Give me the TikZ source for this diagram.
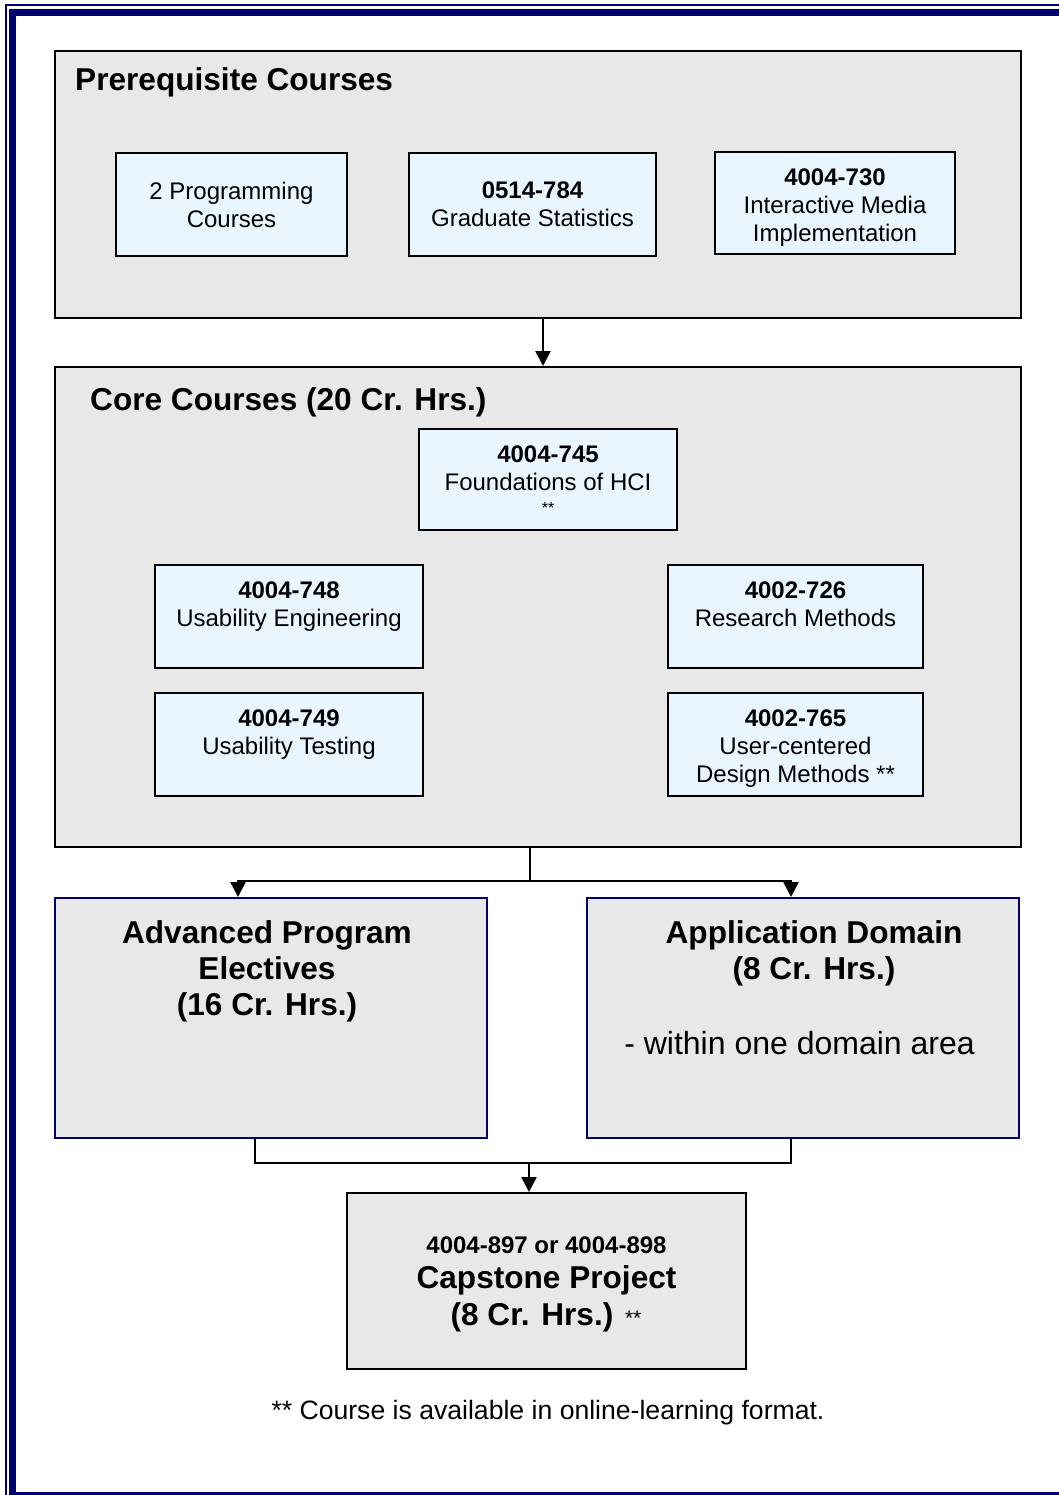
\documentclass[tikz,border=0pt]{standalone}
\usepackage{fontspec}
\setmainfont{Liberation Sans}
\usetikzlibrary{arrows.meta}
\definecolor{navy}{RGB}{0,0,110}
\definecolor{boxgray}{RGB}{232,232,232}
\definecolor{boxblue}{RGB}{234,246,255}
\newcommand{\lowpad}{\rule[-25pt]{0pt}{25pt}}
\newcommand{\toppad}{\rule{0pt}{25pt}}
\begin{document}
\begin{tikzpicture}[x=1pt,y=-1pt,
  group/.style={draw=black, fill=boxgray, line width=2pt, inner sep=0pt},
  area/.style={draw=navy, fill=boxgray, line width=2pt, inner sep=0pt, minimum width=432pt, minimum height=240pt},
  course/.style={draw=black, fill=boxblue, line width=2pt, inner sep=0pt, align=center, font=\fontsize{24}{28}\selectfont, minimum height=103pt},
  head/.style={inner sep=0pt, anchor=base, font=\fontsize{31.6}{36}\selectfont\bfseries},
  arr/.style={line width=2.5pt, -{Triangle[width=15pt,length=15pt]}},
  link/.style={line width=2.5pt}
]
\useasboundingbox (0,0) rectangle (1059,1495);
\clip (0,0) rectangle (1059,1495);
\fill[white] (0,0) rectangle (1059,1495);
% page border
\draw[navy, line width=7pt] (12.5,12.5) rectangle (1120,1495.5);
\draw[navy, line width=2pt] (5.5,5.5) rectangle (1130,1530);

% prerequisite group
\node[group, minimum width=966pt, minimum height=267pt] (pre) at (538,184.5) {};
\node[head, anchor=base west] (pretitle) at (75,91) {Prerequisite Courses};
\node[course, minimum width=231pt] (prog) at (231.5,204.5) {2 Programming\\Courses};
\node[course, minimum width=247pt] (stat) at (532.5,204.5) {\textbf{0514-784}\\Graduate Statistics};
\node[course, minimum width=240pt, minimum height=102pt] (imi) at (835,203) {\toppad\textbf{4004-730}\\Interactive Media\\Implementation};

% core group
\node[group, minimum width=966pt, minimum height=480pt] (core) at (538,607) {};
\node[head, anchor=base west] (coretitle) at (90,410) {Core Courses (20 Cr. Hrs.)};
\node[course, minimum width=258pt, minimum height=101pt] (hci) at (548,479.5) {\textbf{4004-745}\\Foundations of HCI\\[-5pt]{\fontsize{16}{18}\selectfont **}};
\node[course, minimum width=268pt] (ue) at (289,616.5) {\textbf{4004-748}\\Usability Engineering\lowpad};
\node[course, minimum width=255pt] (rm) at (795.5,616.5) {\textbf{4002-726}\\Research Methods\lowpad};
\node[course, minimum width=268pt] (ut) at (289,744.5) {\textbf{4004-749}\\Usability Testing\lowpad};
\node[course, minimum width=255pt] (ucd) at (795.5,744.5) {\toppad\textbf{4002-765}\\User-centered\\Design Methods **};

% electives and domain
\node[area] (adv) at (271,1018) {};
\node[head] (adv1) at (267,943) {Advanced Program};
\node[head] (adv2) at (267,979) {Electives};
\node[head] (adv3) at (267,1015) {(16 Cr. Hrs.)};
\node[area] (app) at (803,1018) {};
\node[head] (app1) at (814,943) {Application Domain};
\node[head] (app2) at (814,979) {(8 Cr. Hrs.)};
\node[inner sep=0pt, anchor=base, font=\fontsize{32}{36}\selectfont] (app3) at (799.5,1054) {- within one domain area};

% capstone
\node[group, minimum width=399pt, minimum height=176pt] (cap) at (546.5,1281) {};
\node[inner sep=0pt, anchor=base, font=\fontsize{24}{28}\selectfont\bfseries] (cap1) at (546.5,1253) {4004-897 or 4004-898};
\node[head] (cap2) at (546.5,1288) {Capstone Project};
\node[head] (cap3) at (546,1325) {(8 Cr. Hrs.) {\fontsize{21}{24}\selectfont\mdseries **}};

% footnote
\node[inner sep=0pt, anchor=base, font=\fontsize{26.6}{30}\selectfont] (note) at (548,1419) {** Course is available in online-learning format.};

% connectors
\draw[arr] ([xshift=5pt]pre.south) -- ([xshift=5pt]core.north);
\draw[link] ([xshift=-8pt]core.south) -- ++(0,33) coordinate (split);
\draw[arr] (split) -| ([xshift=-33pt]adv.north);
\draw[arr] (split) -| ([xshift=-12pt]app.north);
\draw[link] ([xshift=-16pt]adv.south) -- ++(0,24) coordinate (joinl) -| ([xshift=-12pt]app.south);
\coordinate (join) at ([xshift=-17.5pt]cap.north |- joinl);
\draw[arr] (join) -- ([xshift=-17.5pt]cap.north);
\end{tikzpicture}
\end{document}
